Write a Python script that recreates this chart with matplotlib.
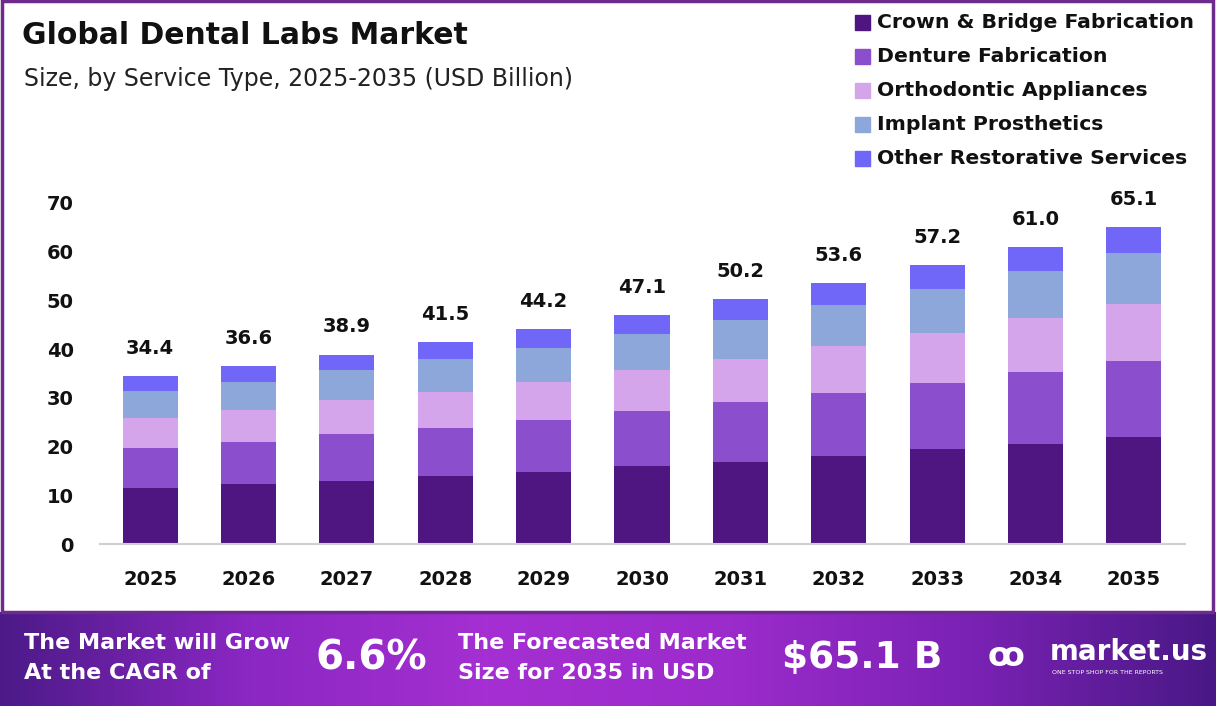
import numpy as np
import matplotlib.pyplot as plt
from matplotlib.patches import Rectangle
from matplotlib.colors import LinearSegmentedColormap

years = ['2025', '2026', '2027', '2028', '2029', '2030', '2031', '2032', '2033', '2034', '2035']
totals = [34.4, 36.6, 38.9, 41.5, 44.2, 47.1, 50.2, 53.6, 57.2, 61.0, 65.1]
crown = [11.5, 12.3, 13.0, 14.0, 14.8, 16.0, 16.9, 18.1, 19.4, 20.6, 22.0]
denture = [8.2, 8.6, 9.5, 9.9, 10.7, 11.4, 12.2, 12.8, 13.6, 14.7, 15.5]
ortho = [6.2, 6.6, 7.0, 7.4, 7.8, 8.4, 8.9, 9.7, 10.3, 11.0, 11.8]
implant = [5.6, 5.8, 6.2, 6.6, 7.0, 7.4, 8.0, 8.5, 9.1, 9.8, 10.5]
other = [2.9, 3.3, 3.2, 3.6, 3.9, 3.9, 4.2, 4.5, 4.8, 4.9, 5.3]

series = [crown, denture, ortho, implant, other]
labels = ['Crown & Bridge Fabrication', 'Denture Fabrication', 'Orthodontic Appliances',
          'Implant Prosthetics', 'Other Restorative Services']
colors = ['#4f1580', '#8b4fcd', '#d4a5eb', '#8da7da', '#7067f9']

plt.rcParams['font.family'] = ['DejaVu Sans']

W, H = 1216, 706
fig = plt.figure(figsize=(W / 100, H / 100), dpi=100)

def fx(px):
    return px / W

def fy(py):
    return 1 - py / H

# chart frame
fig.patches.append(Rectangle((fx(2), fy(612)), fx(1211), fy(1) - fy(612), transform=fig.transFigure,
                             fill=False, edgecolor='#6e2b8c', linewidth=2.5))

ax = fig.add_axes([fx(100), fy(544), fx(1185) - fx(100), fy(203) - fy(544)])
x = np.arange(len(years))
bottom = np.zeros(len(years))
for vals, lab, c in zip(series, labels, colors):
    ax.bar(x, vals, 0.56, bottom=bottom, color=c, label=lab, zorder=2)
    bottom += np.array(vals)

for xi, t, b in zip(x, totals, bottom):
    ax.annotate(f'{t:.1f}', (xi, b), xytext=(0, 13), textcoords='offset points',
                ha='center', va='bottom', fontsize=14, fontweight='bold', color='#111111')

ax.set_xlim(-0.51, 10.52)
ax.set_ylim(0, 70)
ax.set_yticks(range(0, 71, 10))
ax.set_xticks(x)
ax.set_xticklabels(years)
ax.tick_params(length=0)
ax.tick_params(axis='y', pad=19, labelsize=14, colors='#111111')
ax.tick_params(axis='x', pad=19, labelsize=14, colors='#111111')
for lab in ax.get_xticklabels() + ax.get_yticklabels():
    lab.set_fontweight('bold')
for s in ['top', 'right', 'left']:
    ax.spines[s].set_visible(False)
ax.spines['bottom'].set_color('#d0d0d0')
ax.spines['bottom'].set_linewidth(1.5)

# titles
fig.text(fx(22), fy(35), 'Global Dental Labs Market', fontsize=21.5, fontweight='bold',
         color='#111111', va='center', ha='left')
fig.text(fx(24), fy(79), 'Size, by Service Type, 2025-2035 (USD Billion)', fontsize=17,
         color='#222222', va='center', ha='left')

# legend
for i, (lab, c) in enumerate(zip(labels, colors)):
    yc = 22 + i * 34
    fig.patches.append(Rectangle((fx(855), fy(yc + 8)), fx(15), fy(0) - fy(15),
                                 transform=fig.transFigure, color=c))
    fig.text(fx(877), fy(yc), lab, fontsize=14.7, fontweight='bold', color='#111111',
             va='center', ha='left')

# footer gradient band
fax = fig.add_axes([0, 0, 1, fy(612)])
cmap = LinearSegmentedColormap.from_list('band', ['#4c1a88', '#8a27c2', '#a52fd2', '#9c2bcc', '#7a22b4', '#4a1886'])
grad = np.linspace(0, 1, 256).reshape(1, -1)
fax.imshow(grad, aspect='auto', cmap=cmap, extent=[0, 1, 0, 1])
fax.set_axis_off()

fig.text(fx(24), fy(643), 'The Market will Grow', fontsize=16, fontweight='bold', color='white', va='center')
fig.text(fx(24), fy(673), 'At the CAGR of', fontsize=16, fontweight='bold', color='white', va='center')
fig.text(fx(316), fy(658), '6.6%', fontsize=29, fontweight='bold', color='white', va='center')
fig.text(fx(458), fy(643), 'The Forecasted Market', fontsize=16, fontweight='bold', color='white', va='center')
fig.text(fx(458), fy(673), 'Size for 2035 in USD', fontsize=16, fontweight='bold', color='white', va='center')
fig.text(fx(782), fy(658), '$65.1 B', fontsize=27, fontweight='bold', color='white', va='center')
fig.text(fx(988), fy(656), 'ꝏ', fontsize=24, fontweight='bold', color='white', va='center')
fig.text(fx(1050), fy(652), 'market.us', fontsize=20, fontweight='bold', color='white', va='center')
fig.text(fx(1052), fy(673), 'ONE STOP SHOP FOR THE REPORTS', fontsize=4.5, color='white', va='center')

fig.savefig('out.png', dpi=100)
